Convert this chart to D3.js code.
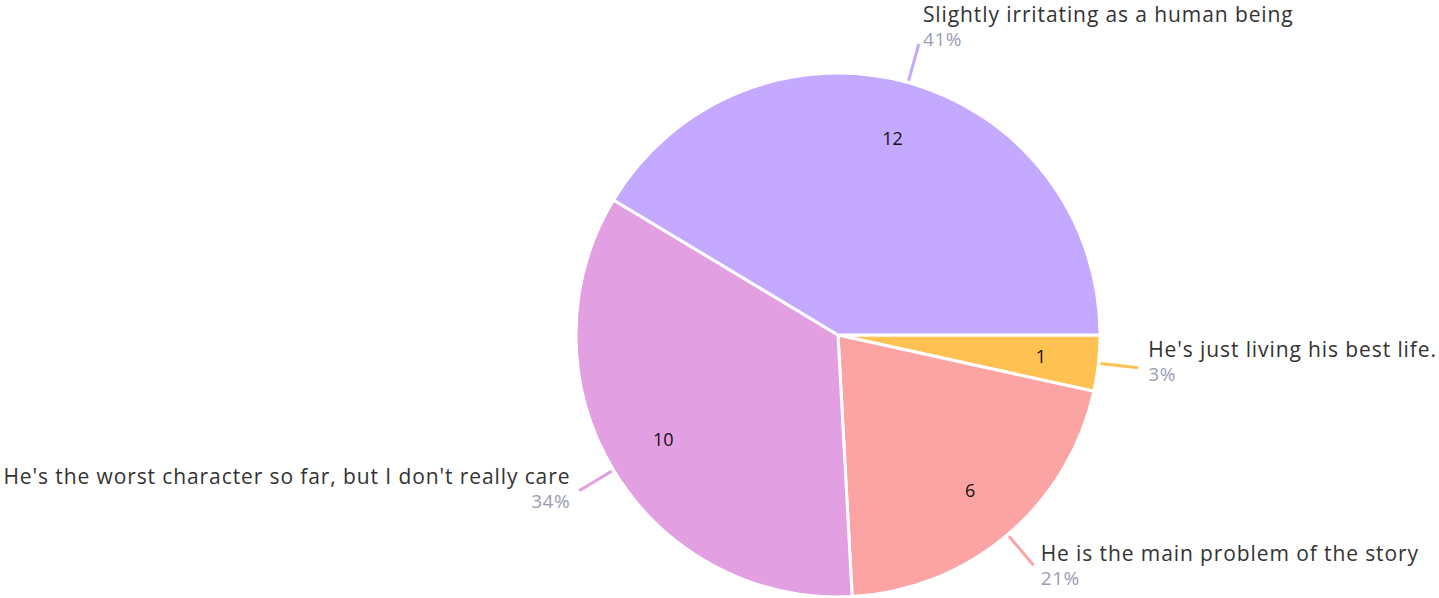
<!DOCTYPE html>
<html>
<head>
<meta charset="utf-8">
<script src="https://cdn.jsdelivr.net/npm/d3@7"></script>
<style>
  body { margin: 0; background: #fff; }
  text { font-family: "Open Sans", Lato, sans-serif; }
</style>
</head>
<body>
<div id="chart"></div>
<script>
var answers = [
  "He's just living his best life.",
  "He is the main problem of the story",
  "He's the worst character so far, but I don't really care",
  "Slightly irritating as a human being"
];
var counts = [1, 6, 10, 12];
var colors = ["#FFC152", "#FCA3A3", "#E2A0E3", "#C5A8FF"];

var width = 1439, height = 598;
var cx = 838, cy = 335, radius = 262;

var svg = d3.select("#chart").append("svg")
    .attr("width", width)
    .attr("height", height);

var total = d3.sum(counts);
var data = counts.map(function (c, i) { return { label: answers[i], value: c, color: colors[i] }; });

var pie = d3.pie()
    .sort(null)
    .value(function (d) { return d.value; })
    .startAngle(Math.PI / 2)
    .endAngle(Math.PI / 2 + 2 * Math.PI);

var arc = d3.arc().innerRadius(0).outerRadius(radius);
var inner = d3.arc().innerRadius(204).outerRadius(204);

var g = svg.append("g").attr("transform", "translate(" + cx + "," + cy + ")");
var arcs = pie(data);

g.selectAll("path.slice")
    .data(arcs)
    .enter().append("path")
    .attr("class", "slice")
    .attr("d", arc)
    .attr("fill", function (d) { return d.data.color; })
    .attr("stroke", "#fff")
    .attr("stroke-width", 3)
    .attr("stroke-linejoin", "round");

// counts inside slices
g.selectAll("text.count")
    .data(arcs)
    .enter().append("text")
    .attr("class", "count")
    .attr("transform", function (d) { return "translate(" + inner.centroid(d) + ")"; })
    .attr("text-anchor", "middle")
    .attr("dy", "0.35em")
    .style("font-size", "18px")
    .attr("fill", "#111")
    .text(function (d) { return d.data.value; });

function mid(d) { return (d.startAngle + d.endAngle) / 2; }
function pt(a, r) { return [Math.sin(a) * r, -Math.cos(a) * r]; }

// leader lines
g.selectAll("line.leader")
    .data(arcs)
    .enter().append("line")
    .attr("class", "leader")
    .attr("x1", function (d) { return pt(mid(d), 264)[0]; })
    .attr("y1", function (d) { return pt(mid(d), 264)[1]; })
    .attr("x2", function (d) { return pt(mid(d), 302)[0]; })
    .attr("y2", function (d) { return pt(mid(d), 302)[1]; })
    .attr("stroke", function (d) { return d.data.color; })
    .attr("stroke-width", 3);

var lab = g.selectAll("g.lab")
    .data(arcs)
    .enter().append("g")
    .attr("class", "lab")
    .attr("transform", function (d) {
        var a = mid(d), p = pt(a, 302);
        var s = Math.sin(a);
        var dx = (s >= 0 ? 1 : -1) * (2 + 8 * Math.abs(s));
        var dy = -12 - 10 * Math.cos(a);
        return "translate(" + (p[0] + dx) + "," + (p[1] + dy) + ")";
    })
    .attr("text-anchor", function (d) { return Math.sin(mid(d)) >= 0 ? "start" : "end"; });

lab.append("text")
    .style("font-size", "21px")
    .style("letter-spacing", "0.9px")
    .attr("fill", "#333")
    .text(function (d) { return d.data.label; });

lab.append("text")
    .attr("y", 24)
    .style("font-size", "19px")
    .style("letter-spacing", "0.6px")
    .attr("fill", "#9b9bb7")
    .text(function (d) { return Math.round(d.data.value / total * 100) + "%"; });
</script>
</body>
</html>
